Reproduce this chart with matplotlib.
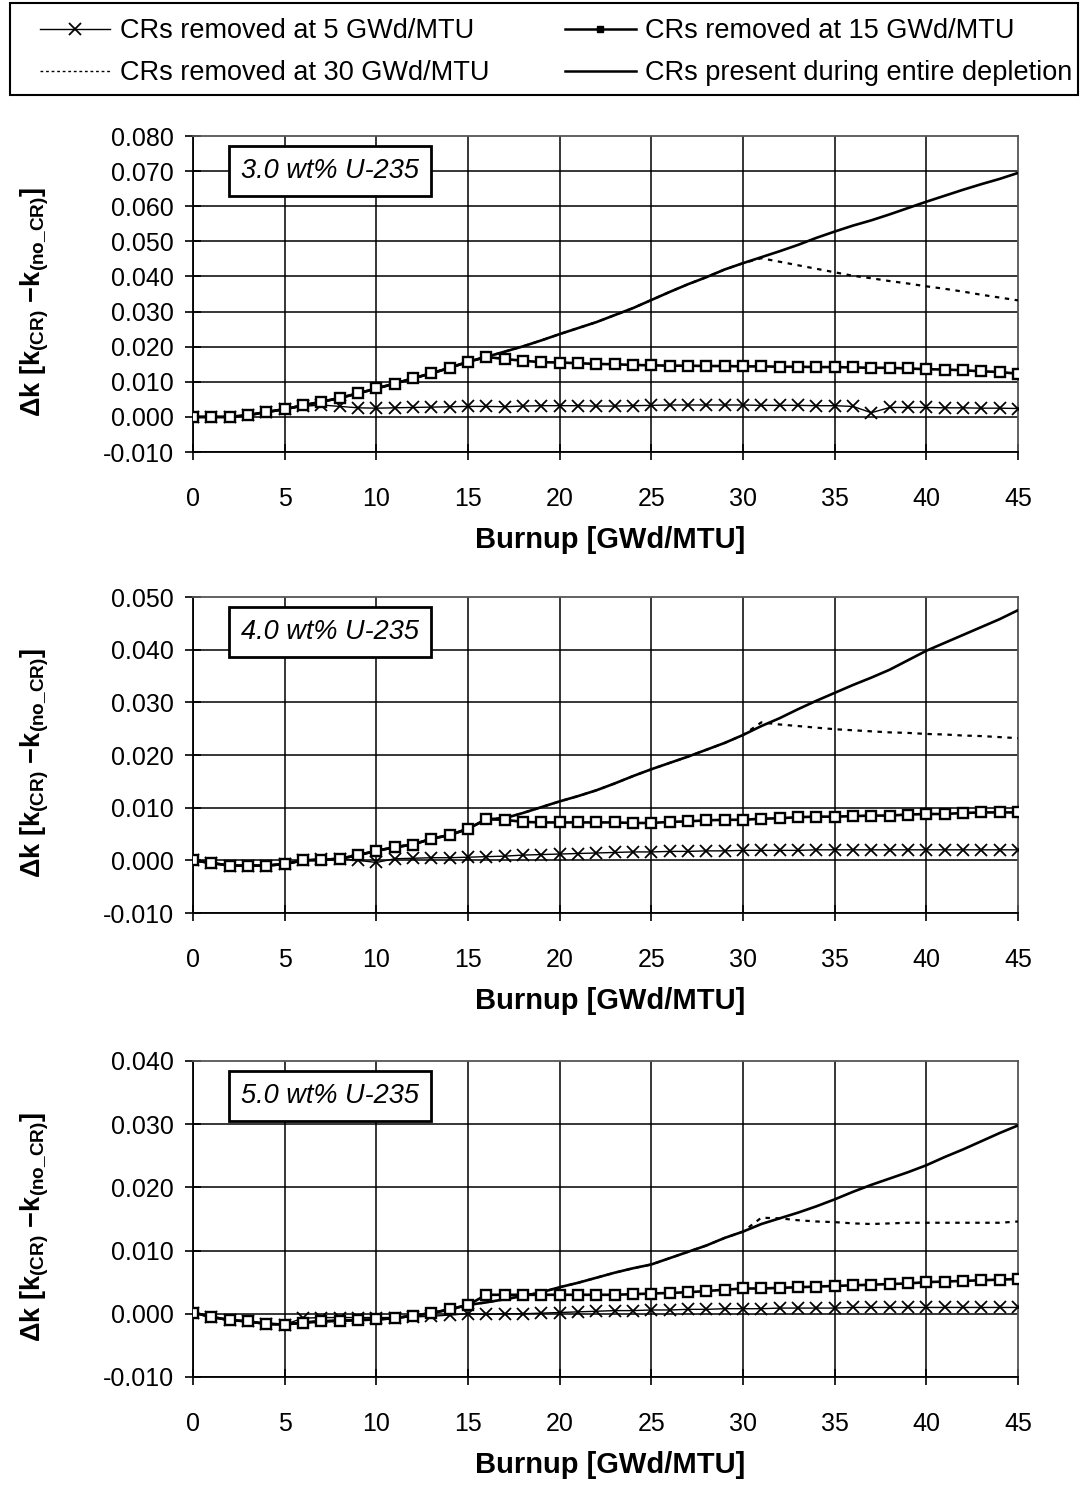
import matplotlib
matplotlib.use("Agg")
import matplotlib.pyplot as plt
from matplotlib.lines import Line2D
from matplotlib.patches import Rectangle
import numpy as np

plt.rcParams['font.family'] = ['Liberation Sans', 'DejaVu Sans']
plt.rcParams['mathtext.fontset'] = 'custom'
plt.rcParams['mathtext.rm'] = 'Liberation Sans'
plt.rcParams['mathtext.bf'] = 'Liberation Sans:bold'
plt.rcParams['mathtext.it'] = 'Liberation Sans:italic'

burnup = list(range(46))

# ---- 3.0 wt% U-235 ----
p1_cr5 = [0, 0, 0, 0.0005, 0.0014, 0.0022, 0.0030, 0.0034, 0.0030, 0.0026,
          0.0025, 0.0026, 0.0027, 0.0028, 0.0029, 0.0030, 0.0030, 0.0029, 0.0031, 0.0032,
          0.0032, 0.0032, 0.0031, 0.0031, 0.0032, 0.0033, 0.0034, 0.0034, 0.0034, 0.0034,
          0.0034, 0.0033, 0.0033, 0.0033, 0.0032, 0.0032, 0.0030, 0.0012, 0.0027, 0.0027,
          0.0027, 0.0026, 0.0026, 0.0025, 0.0025, 0.0024]
p1_cr15 = [0, 0, 0, 0.0005, 0.0014, 0.0022, 0.0033, 0.0043, 0.0054, 0.0067,
           0.0081, 0.0095, 0.0110, 0.0124, 0.0140, 0.0157, 0.0171, 0.0165, 0.0160, 0.0156,
           0.0155, 0.0153, 0.0151, 0.0150, 0.0148, 0.0147, 0.0146, 0.0146, 0.0145, 0.0145,
           0.0144, 0.0144, 0.0143, 0.0143, 0.0142, 0.0142, 0.0141, 0.0140, 0.0140, 0.0138,
           0.0136, 0.0135, 0.0133, 0.0130, 0.0128, 0.0123]
p1_cr30 = [0, 0, 0, 0.0005, 0.0014, 0.0022, 0.0033, 0.0043, 0.0054, 0.0067,
           0.0081, 0.0095, 0.0110, 0.0124, 0.0140, 0.0157, 0.0171, 0.0186, 0.0201, 0.0218,
           0.0236, 0.0253, 0.0270, 0.0290, 0.0310, 0.0333, 0.0356, 0.0378, 0.0398, 0.0420,
           0.0438, 0.0452, 0.0442, 0.0432, 0.0422, 0.0412, 0.0402, 0.0395, 0.0387, 0.0380,
           0.0372, 0.0365, 0.0357, 0.0348, 0.0340, 0.0332]
p1_full = [0, 0, 0, 0.0005, 0.0014, 0.0022, 0.0033, 0.0043, 0.0054, 0.0067,
           0.0081, 0.0095, 0.0110, 0.0124, 0.0140, 0.0157, 0.0171, 0.0186, 0.0201, 0.0218,
           0.0236, 0.0253, 0.0270, 0.0290, 0.0310, 0.0333, 0.0356, 0.0378, 0.0398, 0.0420,
           0.0438, 0.0455, 0.0472, 0.0490, 0.0510, 0.0528, 0.0545, 0.0560, 0.0577, 0.0595,
           0.0613, 0.0630, 0.0647, 0.0663, 0.0678, 0.0695]

# ---- 4.0 wt% U-235 ----
p2_cr5 = [0, -0.0005, -0.0010, -0.0010, -0.0010, -0.0007, 0, 0.0003, 0.0003, 0,
          -0.0004, 0.0003, 0.0004, 0.0005, 0.0005, 0.0006, 0.0007, 0.0008, 0.0010, 0.0011,
          0.0012, 0.0013, 0.0014, 0.0015, 0.0016, 0.0016, 0.0017, 0.0017, 0.0018, 0.0018,
          0.0019, 0.0019, 0.0019, 0.0019, 0.0020, 0.0020, 0.0020, 0.0020, 0.0020, 0.0020,
          0.0020, 0.0020, 0.0020, 0.0020, 0.0020, 0.0020]
p2_cr15 = [0, -0.0005, -0.0010, -0.0010, -0.0010, -0.0007, 0, 0.0001, 0.0003, 0.0010,
           0.0018, 0.0025, 0.0030, 0.0041, 0.0048, 0.0060, 0.0078, 0.0077, 0.0073, 0.0072,
           0.0072, 0.0072, 0.0072, 0.0072, 0.0071, 0.0071, 0.0073, 0.0074, 0.0076, 0.0077,
           0.0077, 0.0079, 0.0080, 0.0082, 0.0083, 0.0083, 0.0084, 0.0085, 0.0085, 0.0087,
           0.0088, 0.0088, 0.0090, 0.0091, 0.0091, 0.0091]
p2_cr30 = [0, -0.0005, -0.0010, -0.0010, -0.0010, -0.0007, 0, 0.0001, 0.0003, 0.0010,
           0.0018, 0.0025, 0.0030, 0.0041, 0.0048, 0.0060, 0.0078, 0.0080, 0.0090, 0.0101,
           0.0112, 0.0122, 0.0133, 0.0146, 0.0160, 0.0173, 0.0185, 0.0197, 0.0210, 0.0223,
           0.0238, 0.0262, 0.0258, 0.0255, 0.0252, 0.0249, 0.0247, 0.0245, 0.0243, 0.0242,
           0.0240, 0.0239, 0.0237, 0.0236, 0.0234, 0.0232]
p2_full = [0, -0.0005, -0.0010, -0.0010, -0.0010, -0.0007, 0, 0.0001, 0.0003, 0.0010,
           0.0018, 0.0025, 0.0030, 0.0041, 0.0048, 0.0060, 0.0078, 0.0080, 0.0090, 0.0101,
           0.0112, 0.0122, 0.0133, 0.0146, 0.0160, 0.0173, 0.0185, 0.0197, 0.0210, 0.0223,
           0.0238, 0.0255, 0.0270, 0.0287, 0.0303, 0.0318, 0.0333, 0.0347, 0.0362, 0.0380,
           0.0398, 0.0413, 0.0428, 0.0443, 0.0458, 0.0475]

# ---- 5.0 wt% U-235 ----
p3_cr5 = [0.0002, -0.0005, -0.0010, -0.0012, -0.0016, -0.0017, -0.0007, -0.0006, -0.0006, -0.0006,
          -0.0006, -0.0006, -0.0005, -0.0004, -0.0002, 0, -0.0001, 0, 0, 0.0001,
          0.0002, 0.0003, 0.0004, 0.0005, 0.0005, 0.0006, 0.0006, 0.0007, 0.0007, 0.0008,
          0.0008, 0.0008, 0.0009, 0.0009, 0.0009, 0.0009, 0.0010, 0.0010, 0.0010, 0.0010,
          0.0010, 0.0010, 0.0010, 0.0010, 0.0010, 0.0010]
p3_cr15 = [0.0002, -0.0005, -0.0010, -0.0012, -0.0016, -0.0017, -0.0014, -0.0012, -0.0011, -0.0010,
           -0.0009, -0.0007, -0.0003, 0.0001, 0.0007, 0.0014, 0.0030, 0.0030, 0.0030, 0.0030,
           0.0030, 0.0030, 0.0030, 0.0030, 0.0031, 0.0032, 0.0033, 0.0034, 0.0036, 0.0038,
           0.0040, 0.0040, 0.0041, 0.0042, 0.0043, 0.0044, 0.0045, 0.0046, 0.0047, 0.0048,
           0.0050, 0.0051, 0.0052, 0.0053, 0.0054, 0.0055]
p3_cr30 = [0.0002, -0.0005, -0.0010, -0.0012, -0.0016, -0.0017, -0.0014, -0.0012, -0.0011, -0.0010,
           -0.0009, -0.0007, -0.0003, 0.0001, 0.0007, 0.0014, 0.0018, 0.0023, 0.0028, 0.0034,
           0.0042, 0.0049, 0.0057, 0.0065, 0.0072, 0.0078, 0.0088, 0.0098, 0.0108, 0.0120,
           0.0130, 0.0152, 0.0151, 0.0148, 0.0146, 0.0145, 0.0143, 0.0142, 0.0143, 0.0144,
           0.0144, 0.0144, 0.0144, 0.0144, 0.0144, 0.0146]
p3_full = [0.0002, -0.0005, -0.0010, -0.0012, -0.0016, -0.0017, -0.0014, -0.0012, -0.0011, -0.0010,
           -0.0009, -0.0007, -0.0003, 0.0001, 0.0007, 0.0014, 0.0018, 0.0023, 0.0028, 0.0034,
           0.0042, 0.0049, 0.0057, 0.0065, 0.0072, 0.0078, 0.0088, 0.0098, 0.0108, 0.0120,
           0.0130, 0.0142, 0.0151, 0.0160, 0.0170, 0.0181, 0.0193, 0.0204, 0.0214, 0.0224,
           0.0235, 0.0248, 0.0260, 0.0273, 0.0286, 0.0298]

panel_titles = ["3.0 wt% U-235", "4.0 wt% U-235", "5.0 wt% U-235"]
y_limits = [(-0.010, 0.080), (-0.010, 0.050), (-0.010, 0.040)]
x_ticks = [0, 5, 10, 15, 20, 25, 30, 35, 40, 45]
legend_labels = ["CRs removed at 5 GWd/MTU", "CRs removed at 15 GWd/MTU",
                 "CRs removed at 30 GWd/MTU", "CRs present during entire depletion"]
x_label = "Burnup [GWd/MTU]"
y_label = r"$\mathbf{\Delta k\ [k_{(CR)}\ {-}k_{(no\_CR)}]}$"

panels = [
    (p1_cr5, p1_cr15, p1_cr30, p1_full),
    (p2_cr5, p2_cr15, p2_cr30, p2_full),
    (p3_cr5, p3_cr15, p3_cr30, p3_full),
]

W, H = 1080, 1487
fig = plt.figure(figsize=(W / 100, H / 100), dpi=100)
left, width = 0.1787, 0.7639
bottoms = [0.696, 0.386, 0.074]
height = 0.2125

FS = 18
for i, (s5, s15, s30, sfull) in enumerate(panels):
    ax = fig.add_axes([left, bottoms[i], width, height])
    ax.plot(burnup, s30, color='black', lw=1.6, ls=(0, (2, 2.5)), zorder=3)
    ax.plot(burnup, sfull, color='black', lw=1.9, ls='-', zorder=4)
    ax.plot(burnup, s5, color='black', lw=1.0, marker='x', ms=9, mew=1.3, zorder=5)
    ax.plot(burnup, s15, color='black', lw=1.9, marker='s', ms=6.5, mfc='white',
            mec='black', mew=1.7, zorder=6)
    lo, hi = y_limits[i]
    ax.set_xlim(0, 45)
    ax.set_ylim(lo, hi)
    yt = np.round(np.arange(lo, hi + 0.0001, 0.010), 3)
    ax.set_yticks(yt)
    ax.set_yticklabels([f"{v:.3f}" for v in yt])
    ax.set_xticks(x_ticks)
    ax.grid(True, color='black', lw=1.1)
    ax.get_ygridlines()[-1].set_visible(False)
    ax.get_xgridlines()[-1].set_visible(False)
    for s in ['left', 'bottom']:
        ax.spines[s].set_linewidth(1.3)
        ax.spines[s].set_color('black')
    for s in ['top', 'right']:
        ax.spines[s].set_linewidth(1.3)
        ax.spines[s].set_color('#555555')
        ax.spines[s].set_linestyle((0, (1, 1)))
    ax.tick_params(axis='both', direction='inout', length=12, width=1.2,
                   labelsize=FS, color='black')
    ax.tick_params(axis='x', pad=19)
    ax.tick_params(axis='y', pad=8)
    ax.set_xlabel(x_label, fontsize=21, fontweight='bold')
    ax.xaxis.set_label_coords(0.505, -0.235)
    ax.set_ylabel(y_label, fontsize=19.5)
    ax.yaxis.set_label_coords(-0.172, 0.475)
    ax.text(0.166, 0.89, panel_titles[i], transform=ax.transAxes, fontsize=19.5,
            style='italic', ha='center', va='center', zorder=10,
            bbox=dict(boxstyle='square,pad=0.45', fc='white', ec='black', lw=2))

# legend frame drawn as a separate rectangle (pixel-based)
fig.patches.append(Rectangle((10 / W, 1 - 95 / H), 1068 / W, 92 / H,
                             transform=fig.transFigure, fill=False,
                             ec='black', lw=1.5))
handles = [
    Line2D([], [], color='black', lw=1.0, marker='x', ms=9, mew=1.3),
    Line2D([], [], color='black', lw=1.0, ls=(0, (2, 2))),
    Line2D([], [], color='black', lw=1.8, marker='s', ms=5, mfc='black', mec='black'),
    Line2D([], [], color='black', lw=1.8),
]
labels = [legend_labels[0], legend_labels[2], legend_labels[1], legend_labels[3]]
leg = fig.legend(handles, labels, ncol=2, loc='upper left',
                 bbox_to_anchor=(40 / W, 1 - 18 / H), fontsize=19.5, frameon=False,
                 handlelength=2.6, handletextpad=0.35, columnspacing=2.8,
                 borderpad=0, labelspacing=0.6, borderaxespad=0)

fig.savefig("out.png", dpi=100)
